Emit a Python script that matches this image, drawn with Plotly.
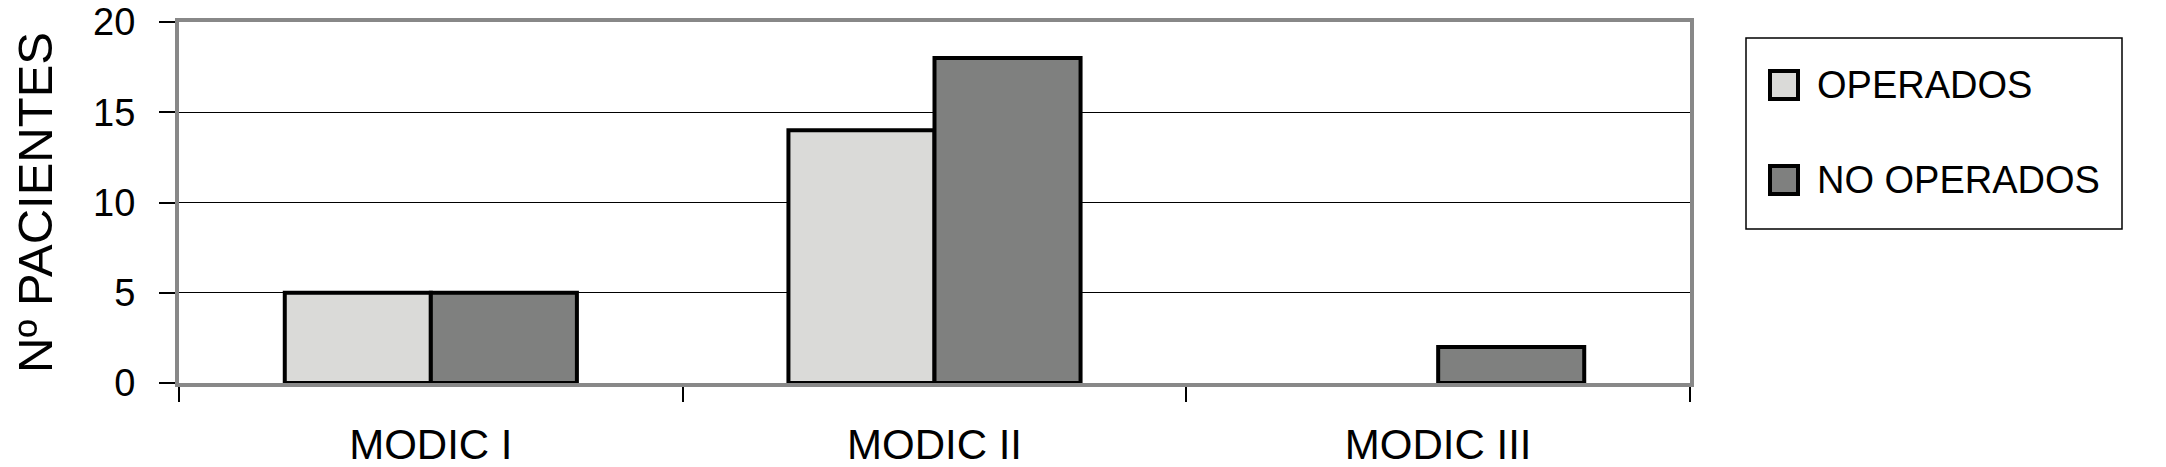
import plotly.graph_objects as go

categories = ["MODIC I", "MODIC II", "MODIC III"]
operados = [5, 14, None]
no_operados = [5, 18, 2]
series_names = ["OPERADOS", "NO OPERADOS"]
series_colors = ["#DADAD8", "#7F807F"]

W, H = 2166, 467
OFF = 8  # the page's body margin shifts the figure by this much
PL, PR, PT, PB = 179, 1690, 22, 383  # plot area as seen on the page
FONT = "Arial, Liberation Sans, sans-serif"


def px(x):
    return (x - PL) / (PR - PL)


def py(y):
    return (PB - y) / (PB - PT)


fig = go.Figure()
for name, vals, col in zip(series_names, [operados, no_operados], series_colors):
    fig.add_trace(go.Bar(
        x=categories, y=vals, name=name,
        marker=dict(color=col, line=dict(color="black", width=4)),
    ))

fig.update_layout(
    width=W, height=H,
    margin=dict(l=PL - OFF, r=W - (PR - OFF), t=PT - OFF, b=H - (PB - OFF), autoexpand=False),
    paper_bgcolor="white", plot_bgcolor="white",
    barmode="group", bargap=0.42, bargroupgap=0,
    showlegend=False,
    font=dict(family=FONT, color="black"),
)

fig.update_xaxes(
    automargin=False,
    showline=True, linecolor="#888888", linewidth=4, mirror=True,
    ticks="outside", tickson="boundaries", ticklen=15, tickcolor="black", tickwidth=1.5,
    tickfont=dict(size=42), ticklabelstandoff=22, showgrid=False,
)
fig.update_yaxes(
    automargin=False, ticklabeloverflow="allow",
    range=[0, 20], dtick=5,
    showline=True, linecolor="#888888", linewidth=4, mirror=True,
    ticks="outside", ticklen=16, tickcolor="black", tickwidth=1.5,
    tickfont=dict(size=38), ticklabelstandoff=16,
    showgrid=True, gridcolor="black", gridwidth=1.2, zeroline=False,
    title=dict(text="Nº PACIENTES", font=dict(size=49), standoff=40),
)

# legend drawn by hand so the swatches are as large as in the original
fig.add_shape(type="rect", xref="paper", yref="paper",
              x0=px(1746), x1=px(2122), y0=py(229), y1=py(38),
              line=dict(color="black", width=1.5), fillcolor="white")
for i, (name, col) in enumerate(zip(series_names, series_colors)):
    yc = 85 + i * 95
    fig.add_shape(type="rect", xref="paper", yref="paper",
                  x0=px(1770), x1=px(1798), y0=py(yc + 14), y1=py(yc - 14),
                  line=dict(color="black", width=4), fillcolor=col)
    fig.add_annotation(x=px(1815), y=py(yc), xref="paper", yref="paper",
                       text=name, showarrow=False, xanchor="left", yanchor="middle",
                       font=dict(size=38, color="black"))

fig.write_html("out.html")
